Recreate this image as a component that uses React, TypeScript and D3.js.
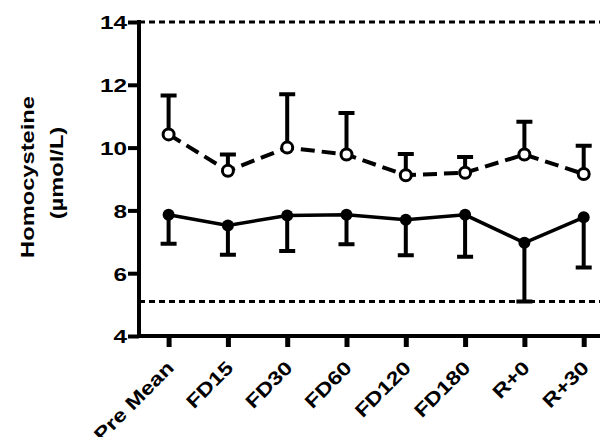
import React, { useEffect, useRef } from 'react';
import * as d3 from 'd3';

const categories = ['Pre Mean', 'FD15', 'FD30', 'FD60', 'FD120', 'FD180', 'R+0', 'R+30'];
const openMeans = [10.42, 9.26, 10.0, 9.78, 9.12, 9.2, 9.78, 9.16];
const openUpper = [11.66, 9.78, 11.7, 11.1, 9.8, 9.7, 10.82, 10.06];
const filledMeans = [7.86, 7.52, 7.84, 7.86, 7.7, 7.86, 6.97, 7.78];
const filledLower = [6.94, 6.59, 6.71, 6.92, 6.57, 6.52, 5.1, 6.18];
const yTicks = [4, 6, 8, 10, 12, 14];
const refLines = [14, 5.1];

function Chart() {
  const ref = useRef<SVGSVGElement>(null);

  useEffect(() => {
    const svg = d3.select(ref.current);
    svg.selectAll('*').remove();

    const width = 608;
    const left = 139, top = 22, bottom = 336;
    const font = 'Arial, "Liberation Sans", sans-serif';
    const stretch = 1.28; // the original's type is wide

    const x = d3.scalePoint().domain(categories).range([left + 29.6, left + 29.6 + 7 * 59.3]);
    const y = d3.scaleLinear().domain([4, 14]).range([bottom, top]);

    // reference lines
    svg.selectAll('.ref')
      .data(refLines)
      .enter()
      .append('line')
      .attr('x1', left)
      .attr('x2', width)
      .attr('y1', d => y(d))
      .attr('y2', d => y(d))
      .attr('stroke', '#000')
      .attr('stroke-width', 3)
      .attr('stroke-dasharray', '6,4');

    // y axis
    const yAxis = svg.append('g')
      .attr('transform', `translate(${left},0)`)
      .call(d3.axisLeft(y).tickValues(yTicks).tickSize(11).tickFormat(d3.format('d')));
    yAxis.select('.domain').attr('stroke-width', 4).attr('d', `M0,${bottom + 2}V${top - 2}`);
    yAxis.selectAll('.tick line').attr('stroke-width', 4);
    yAxis.selectAll('.tick text')
      .attr('x', 0)
      .attr('dy', '0.36em')
      .attr('transform', `translate(-12,0) scale(${stretch},1)`)
      .attr('font-family', font)
      .attr('font-size', 19)
      .attr('font-weight', 'bold')
      .attr('fill', '#000');

    // x axis
    const xAxis = svg.append('g')
      .attr('transform', `translate(0,${bottom})`)
      .call(d3.axisBottom(x).tickSize(11));
    xAxis.select('.domain').attr('stroke-width', 4).attr('d', `M${left - 2},0H${width}`);
    xAxis.selectAll('.tick line').attr('stroke-width', 5);
    xAxis.selectAll('.tick text')
      .attr('y', 0)
      .attr('dy', 0)
      .attr('font-family', font)
      .attr('font-size', 19)
      .attr('font-weight', 'bold')
      .attr('fill', '#000')
      .attr('text-anchor', 'end')
      .attr('transform', `translate(6,33) rotate(-45) scale(${stretch - 0.05},1)`);

    const cap = 8;

    // open series error bars (upper)
    svg.selectAll('.oerr')
      .data(categories)
      .enter()
      .append('path')
      .attr('d', (c, i) => `M${x(c)},${y(openMeans[i])}V${y(openUpper[i])}M${x(c)! - cap},${y(openUpper[i])}H${x(c)! + cap}`)
      .attr('stroke', '#000')
      .attr('stroke-width', 4)
      .attr('fill', 'none');

    // filled series error bars (lower)
    svg.selectAll('.ferr')
      .data(categories)
      .enter()
      .append('path')
      .attr('d', (c, i) => `M${x(c)},${y(filledMeans[i])}V${y(filledLower[i])}M${x(c)! - cap},${y(filledLower[i])}H${x(c)! + cap}`)
      .attr('stroke', '#000')
      .attr('stroke-width', 4)
      .attr('fill', 'none');

    const line = d3.line<number>()
      .x((_, i) => x(categories[i])!)
      .y(d => y(d));

    svg.append('path')
      .datum(openMeans)
      .attr('d', line)
      .attr('fill', 'none')
      .attr('stroke', '#000')
      .attr('stroke-width', 4)
      .attr('stroke-dasharray', '14,7');

    svg.append('path')
      .datum(filledMeans)
      .attr('d', line)
      .attr('fill', 'none')
      .attr('stroke', '#000')
      .attr('stroke-width', 3.5);

    svg.selectAll('.ocirc')
      .data(openMeans)
      .enter()
      .append('circle')
      .attr('cx', (_, i) => x(categories[i])!)
      .attr('cy', d => y(d))
      .attr('r', 5.5)
      .attr('fill', '#fff')
      .attr('stroke', '#000')
      .attr('stroke-width', 3);

    svg.selectAll('.fcirc')
      .data(filledMeans)
      .enter()
      .append('circle')
      .attr('cx', (_, i) => x(categories[i])!)
      .attr('cy', d => y(d))
      .attr('r', 6)
      .attr('fill', '#000');

    // y label, two lines
    const labelLines = [
      { text: 'Homocysteine', x: 34, y: 177 },
      { text: '(µmol/L)', x: 63, y: 173 },
    ];
    svg.selectAll('.ylab')
      .data(labelLines)
      .enter()
      .append('text')
      .attr('transform', d => `translate(${d.x},${d.y}) rotate(-90) scale(${stretch},1)`)
      .attr('text-anchor', 'middle')
      .attr('font-family', font)
      .attr('font-size', 18.5)
      .attr('font-weight', 'bold')
      .attr('fill', '#000')
      .text(d => d.text);
  }, []);

  return <svg ref={ref} width={608} height={445} style={{ display: 'block' }}></svg>;
}

export default function App() {
  return (
    <div style={{ margin: -8 }}>
      <Chart />
    </div>
  );
}
